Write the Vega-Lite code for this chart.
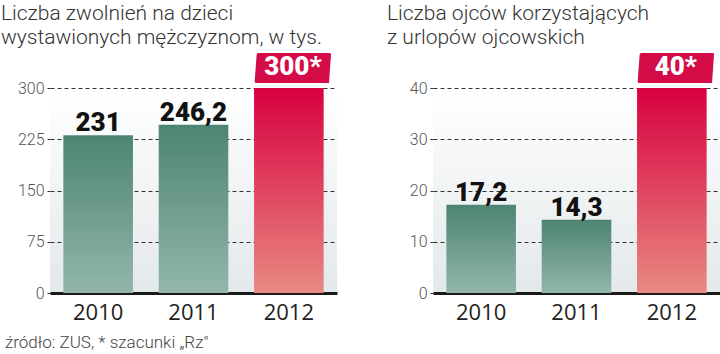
{
  "$schema": "https://vega.github.io/schema/vega-lite/v6.json",
  "padding": {"left": 0, "top": 2, "right": 0, "bottom": 0},
  "background": "#ffffff",
  "bounds": "flush",
  "spacing": 96,
  "title": {
    "text": "źródło: ZUS, * szacunki „Rz\"",
    "orient": "bottom",
    "anchor": "start",
    "frame": "group",
    "dx": -45,
    "offset": 12,
    "font": "Roboto",
    "fontWeight": 300,
    "fontSize": 17,
    "lineHeight": 18,
    "color": "#444444"
  },
  "datasets": {
    "zwolnienia": [
      {"year": "2010", "value": 231, "label": "231"},
      {"year": "2011", "value": 246.2, "label": "246,2"},
      {"year": "2012", "value": 300, "label": "300*"}
    ],
    "ojcowie": [
      {"year": "2010", "value": 17.2, "label": "17,2"},
      {"year": "2011", "value": 14.3, "label": "14,3"},
      {"year": "2012", "value": 40, "label": "40*"}
    ]
  },
  "hconcat": [
    {
      "width": 287,
      "height": 205,
      "title": {
        "text": ["Liczba zwolnień na dzieci", "wystawionych mężczyznom, w tys."],
        "anchor": "start", "frame": "group", "dx": -49, "offset": 5
      },
      "data": {"name": "zwolnienia"},
      "encoding": {
        "x": {"field": "year", "type": "nominal", "scale": {"paddingInner": 0.27, "paddingOuter": 0.14}, "axis": {"title": null, "labelAngle": 0}},
        "y": {"field": "value", "type": "quantitative", "scale": {"domain": [0, 300], "nice": false}, "axis": {"title": null, "values": [0, 75, 150, 225, 300]}}
      },
      "layer": [
        {
          "transform": [{"filter": "datum.year != '2012'"}],
          "mark": {"type": "bar", "fill": {"gradient": "linear", "x1": 0, "y1": 0, "x2": 0, "y2": 1, "stops": [{"offset": 0, "color": "#4c8473"}, {"offset": 1, "color": "#93b6ab"}]}}
        },
        {
          "transform": [{"filter": "datum.year == '2012'"}],
          "mark": {"type": "bar", "fill": {"gradient": "linear", "x1": 0, "y1": 0, "x2": 0, "y2": 1, "stops": [{"offset": 0, "color": "#d8003f"}, {"offset": 1, "color": "#e88a82"}]}}
        },
        {
          "transform": [{"filter": "datum.year != '2012'"}],
          "mark": {"type": "text", "baseline": "alphabetic", "dy": -4, "font": "Roboto", "fontWeight": 900, "fontSize": 26, "color": "#111111"},
          "encoding": {"text": {"field": "label"}}
        },
        {
          "transform": [{"filter": "datum.year == '2012'"}],
          "mark": {"type": "point", "filled": true, "opacity": 1, "strokeWidth": 0, "color": "#d30c47", "shape": "M -0.9 -0.39 L 0.96 -0.39 Q 1 -0.39 0.99 -0.33 L 0.94 0.39 L -0.96 0.39 Q -1 0.39 -0.99 0.33 L -0.94 -0.35 Q -0.93 -0.39 -0.9 -0.39 Z", "size": 5929, "xOffset": 4, "yOffset": -20}
        },
        {
          "transform": [{"filter": "datum.year == '2012'"}],
          "mark": {"type": "text", "baseline": "middle", "font": "Roboto", "fontWeight": 900, "fontSize": 26, "color": "#ffffff", "xOffset": 4, "yOffset": -21},
          "encoding": {"text": {"field": "label"}}
        }
      ]
    },
    {
      "width": 287,
      "height": 205,
      "title": {
        "text": ["Liczba ojców korzystających", "z urlopów ojcowskich"],
        "anchor": "start", "frame": "group", "dx": -46, "offset": 5
      },
      "data": {"name": "ojcowie"},
      "encoding": {
        "x": {"field": "year", "type": "nominal", "scale": {"paddingInner": 0.27, "paddingOuter": 0.14}, "axis": {"title": null, "labelAngle": 0}},
        "y": {"field": "value", "type": "quantitative", "scale": {"domain": [0, 40], "nice": false}, "axis": {"title": null, "values": [0, 10, 20, 30, 40]}}
      },
      "layer": [
        {
          "transform": [{"filter": "datum.year != '2012'"}],
          "mark": {"type": "bar", "fill": {"gradient": "linear", "x1": 0, "y1": 0, "x2": 0, "y2": 1, "stops": [{"offset": 0, "color": "#4c8473"}, {"offset": 1, "color": "#93b6ab"}]}}
        },
        {
          "transform": [{"filter": "datum.year == '2012'"}],
          "mark": {"type": "bar", "fill": {"gradient": "linear", "x1": 0, "y1": 0, "x2": 0, "y2": 1, "stops": [{"offset": 0, "color": "#d8003f"}, {"offset": 1, "color": "#e88a82"}]}}
        },
        {
          "transform": [{"filter": "datum.year != '2012'"}],
          "mark": {"type": "text", "baseline": "alphabetic", "dy": -4, "font": "Roboto", "fontWeight": 900, "fontSize": 26, "color": "#111111"},
          "encoding": {"text": {"field": "label"}}
        },
        {
          "transform": [{"filter": "datum.year == '2012'"}],
          "mark": {"type": "point", "filled": true, "opacity": 1, "strokeWidth": 0, "color": "#d30c47", "shape": "M -0.9 -0.39 L 0.96 -0.39 Q 1 -0.39 0.99 -0.33 L 0.94 0.39 L -0.96 0.39 Q -1 0.39 -0.99 0.33 L -0.94 -0.35 Q -0.93 -0.39 -0.9 -0.39 Z", "size": 5929, "xOffset": 4, "yOffset": -20}
        },
        {
          "transform": [{"filter": "datum.year == '2012'"}],
          "mark": {"type": "text", "baseline": "middle", "font": "Roboto", "fontWeight": 900, "fontSize": 26, "color": "#ffffff", "xOffset": 4, "yOffset": -21},
          "encoding": {"text": {"field": "label"}}
        }
      ]
    }
  ],
  "config": {
    "view": {"stroke": null, "fill": {"gradient": "linear", "x1": 0, "y1": 0, "x2": 0, "y2": 1, "stops": [{"offset": 0, "color": "#ffffff"}, {"offset": 1, "color": "#e3e8ea"}]}},
    "title": {"font": "Roboto", "fontWeight": 300, "fontSize": 21, "lineHeight": 24, "color": "#333333"},
    "axisY": {"zindex": 1, "domain": false, "grid": true, "gridColor": "#333333", "gridDash": [4, 3], "gridWidth": 1, "gridOpacity": 1, "ticks": true, "tickSize": 3, "tickColor": "#333333", "tickWidth": 1, "labelPadding": 3, "labelFont": "Roboto", "labelFontWeight": 300, "labelFontSize": 16, "labelColor": "#555555", "minExtent": 50, "maxExtent": 50},
    "axisX": {"zindex": 2, "grid": false, "domain": true, "domainColor": "#1a1a1a", "domainWidth": 3, "ticks": false, "labelPadding": 9, "labelFont": "Open Sans", "labelFontSize": 22, "labelColor": "#222222"}
  }
}
